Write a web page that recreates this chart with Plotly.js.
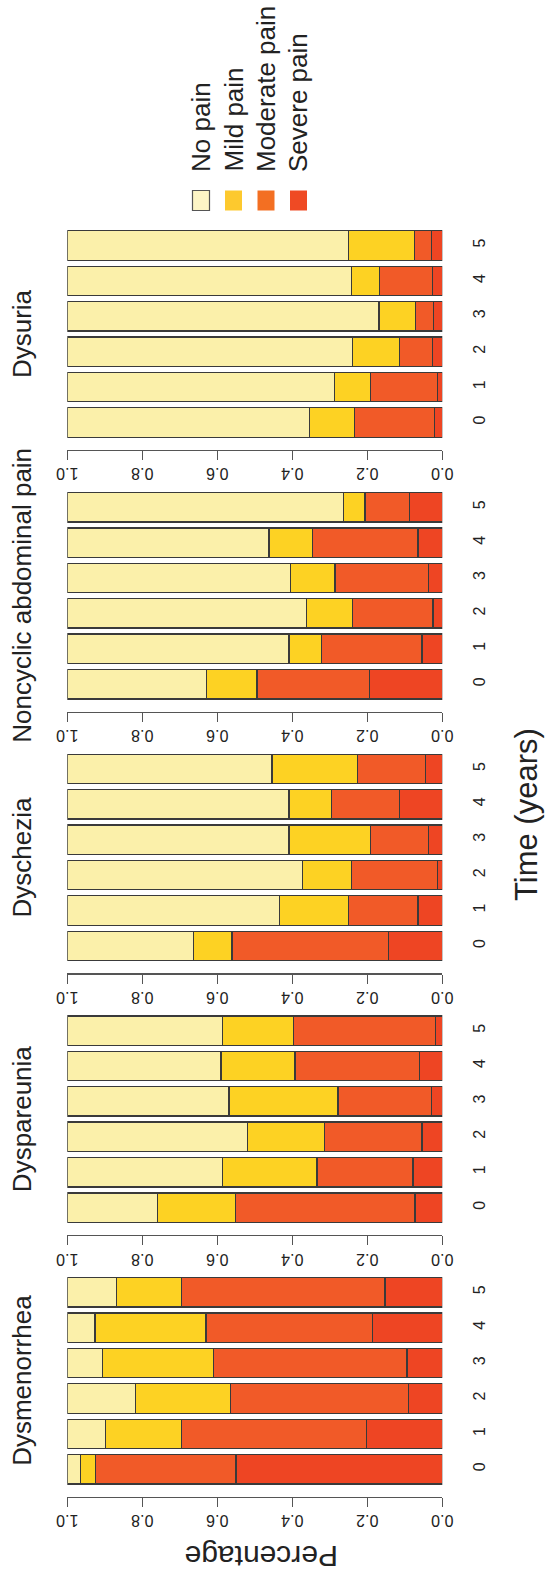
<!DOCTYPE html>
<html>
<head>
<meta charset="utf-8">
<script src="https://cdn.plot.ly/plotly-3.0.1.min.js"></script>
<style>
  html, body { margin: 0; padding: 0; background: #fff; }
  #chart { width: 549px; height: 1576px; }
</style>
</head>
<body>
<div id="chart"></div>
<script>
// ---------------- data ----------------
const times = [0, 1, 2, 3, 4, 5];
const timeLabels = ['0', '1', '2', '3', '4', '5'];
const pctTicks = [0, 0.2, 0.4, 0.6, 0.8, 1.0];
const pctLabels = ['0.0', '0.2', '0.4', '0.6', '0.8', '1.0'];
const symptoms = ['Dysmenorrhea', 'Dyspareunia', 'Dyschezia', 'Noncyclic abdominal pain', 'Dysuria'];
const levels = ['No pain', 'Mild pain', 'Moderate pain', 'Severe pain'];

// proportions per year (0..5)
const dysmenorrheaSevere   = [0.550, 0.203, 0.091, 0.094, 0.187, 0.153];
const dysmenorrheaModerate = [0.375, 0.493, 0.473, 0.517, 0.443, 0.543];
const dysmenorrheaMild     = [0.039, 0.203, 0.254, 0.296, 0.296, 0.173];
const dysmenorrheaNone     = [0.036, 0.101, 0.182, 0.093, 0.074, 0.131];

const dyspareuniaSevere    = [0.073, 0.078, 0.054, 0.028, 0.060, 0.018];
const dyspareuniaModerate  = [0.479, 0.256, 0.261, 0.250, 0.333, 0.379];
const dyspareuniaMild      = [0.208, 0.253, 0.205, 0.291, 0.197, 0.189];
const dyspareuniaNone      = [0.240, 0.413, 0.480, 0.431, 0.410, 0.414];

const dyscheziaSevere      = [0.143, 0.065, 0.012, 0.036, 0.115, 0.044];
const dyscheziaModerate    = [0.418, 0.185, 0.230, 0.156, 0.181, 0.183];
const dyscheziaMild        = [0.102, 0.184, 0.130, 0.217, 0.113, 0.227];
const dyscheziaNone        = [0.337, 0.566, 0.628, 0.591, 0.591, 0.546];

const noncyclicSevere      = [0.195, 0.054, 0.025, 0.036, 0.065, 0.088];
const noncyclicModerate    = [0.299, 0.269, 0.214, 0.250, 0.281, 0.118];
const noncyclicMild        = [0.135, 0.086, 0.124, 0.119, 0.116, 0.058];
const noncyclicNone        = [0.371, 0.591, 0.637, 0.595, 0.538, 0.736];

const dysuriaSevere        = [0.020, 0.012, 0.027, 0.024, 0.027, 0.029];
const dysuriaModerate      = [0.214, 0.180, 0.088, 0.048, 0.140, 0.045];
const dysuriaMild          = [0.120, 0.096, 0.125, 0.097, 0.076, 0.176];
const dysuriaNone          = [0.646, 0.712, 0.760, 0.831, 0.757, 0.750];

// ---------------- styles ----------------
const barColors = { 'No pain': '#FBF0AA', 'Mild pain': '#FDD223', 'Moderate pain': '#F15A28', 'Severe pain': '#EE4523' };
const legendColors = { 'No pain': '#FDF5C6', 'Mild pain': '#FDC92E', 'Moderate pain': '#F36F22', 'Severe pain': '#EF4A24' };
const FONT = 'Liberation Sans, Arial, Helvetica, sans-serif';
const TXT = '#222';

const panelData = [
  { 'Severe pain': dysmenorrheaSevere, 'Moderate pain': dysmenorrheaModerate, 'Mild pain': dysmenorrheaMild, 'No pain': dysmenorrheaNone },
  { 'Severe pain': dyspareuniaSevere, 'Moderate pain': dyspareuniaModerate, 'Mild pain': dyspareuniaMild, 'No pain': dyspareuniaNone },
  { 'Severe pain': dyscheziaSevere, 'Moderate pain': dyscheziaModerate, 'Mild pain': dyscheziaMild, 'No pain': dyscheziaNone },
  { 'Severe pain': noncyclicSevere, 'Moderate pain': noncyclicModerate, 'Mild pain': noncyclicMild, 'No pain': noncyclicNone },
  { 'Severe pain': dysuriaSevere, 'Moderate pain': dysuriaModerate, 'Mild pain': dysuriaMild, 'No pain': dysuriaNone }
];

// ---------------- layout geometry (pixels) ----------------
const W = 549, H = 1576;
const px = p => p / W;
const py = p => 1 - p / H;
const xLeft = 67.3, xRight = 442.3;          // value 1.0 .. 0.0
const step = 35.4;                           // pixels per category
const panelPeriod = 261.7;
const axisBottom0 = 1496.7;                  // axis line of the lowest panel
const yLo = -0.774, yHi = 5.5;

const traces = [];
const layout = {
  width: W, height: H,
  margin: { l: 0, r: 0, t: 0, b: 0, pad: 0 },
  paper_bgcolor: '#fff', plot_bgcolor: '#fff',
  barmode: 'stack',
  showlegend: false,
  font: { family: FONT, color: TXT },
  annotations: [], shapes: []
};

const stackOrder = ['Severe pain', 'Moderate pain', 'Mild pain', 'No pain'];

symptoms.forEach((name, k) => {
  const sfx = k === 0 ? '' : String(k + 1);
  const bottomPx = axisBottom0 - panelPeriod * k;
  const topPx = bottomPx - (yHi - yLo) * step;
  stackOrder.forEach(lv => {
    traces.push({
      type: 'bar', orientation: 'h',
      x: panelData[k][lv], y: times,
      width: 0.83,
      xaxis: 'x' + sfx, yaxis: 'y' + sfx,
      marker: { color: barColors[lv], line: { color: '#3a3a3a', width: 1.3 } },
      name: lv, hoverinfo: 'x+name'
    });
  });
  layout['xaxis' + sfx] = {
    domain: [px(xLeft), px(xRight)], range: [1, 0], anchor: 'y' + sfx,
    tickvals: pctTicks, ticktext: pctLabels, tickangle: 180,
    ticks: 'outside', ticklen: 9, tickwidth: 1.3, tickcolor: '#555',
    showline: true, linecolor: '#555', linewidth: 1.3,
    showgrid: false, zeroline: false, fixedrange: true,
    tickfont: { size: 16, color: TXT, family: FONT }, ticklabelstandoff: 5
  };
  layout['yaxis' + sfx] = {
    domain: [py(bottomPx), py(topPx)], range: [yLo, yHi], anchor: 'x' + sfx,
    side: 'right', tickvals: times, ticktext: timeLabels, tickangle: -90,
    ticks: '', showline: false, showgrid: false, zeroline: false, fixedrange: true,
    tickfont: { size: 16, color: TXT, family: FONT }, ticklabelstandoff: 26
  };
  // panel title
  const centerPx = (bottomPx - 12.7 + (bottomPx - 12.7 - 206.3)) / 2;
  layout.annotations.push({
    text: name, xref: 'paper', yref: 'paper', x: px(22), y: py(centerPx),
    xanchor: 'center', yanchor: 'middle', textangle: -90, showarrow: false,
    font: { size: 26, family: FONT, color: TXT }
  });
});

// axis titles
layout.annotations.push({
  text: 'Percentage', xref: 'paper', yref: 'paper', x: px(262), y: py(1557),
  xanchor: 'center', yanchor: 'middle', textangle: 180, showarrow: false,
  font: { size: 30, family: FONT, color: TXT }
});
layout.annotations.push({
  text: 'Time (years)', xref: 'paper', yref: 'paper', x: px(526), y: py(815),
  xanchor: 'center', yanchor: 'middle', textangle: -90, showarrow: false,
  font: { size: 31, family: FONT, color: TXT }
});

// legend (rotated, drawn manually)
const legendCx = [201, 233.5, 266, 298.5];
levels.forEach((lv, i) => {
  layout.shapes.push({
    type: 'rect', xref: 'paper', yref: 'paper',
    x0: px(legendCx[i] - 8.5), x1: px(legendCx[i] + 8.5),
    y0: py(210.5), y1: py(190.5),
    fillcolor: legendColors[lv],
    line: { color: i === 0 ? '#555' : legendColors[lv], width: i === 0 ? 1.2 : 0 }
  });
  layout.annotations.push({
    text: lv, xref: 'paper', yref: 'paper', x: px(legendCx[i]), y: py(174),
    xanchor: 'center', yanchor: 'bottom', textangle: -90, showarrow: false,
    font: { size: 26, family: FONT, color: TXT }
  });
});

Plotly.newPlot('chart', traces, layout, { displayModeBar: false, staticPlot: true });
</script>
</body>
</html>
